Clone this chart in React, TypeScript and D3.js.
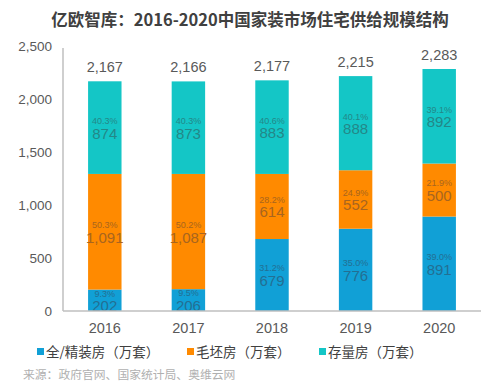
import * as d3 from 'd3';
import React from 'react';

const width = 500;
const height = 392;
const margin = { top: 46, right: 19, bottom: 81, left: 63 };

const years = ['2016', '2017', '2018', '2019', '2020'];
const fineDecor = [202, 206, 679, 776, 891];
const roughHouse = [1091, 1087, 614, 552, 500];
const stockHouse = [874, 873, 883, 888, 892];
const totals = [2167, 2166, 2177, 2215, 2283];
const finePct = ['9.3%', '9.5%', '31.2%', '35.0%', '39.0%'];
const roughPct = ['50.3%', '50.2%', '28.2%', '24.9%', '21.9%'];
const stockPct = ['40.3%', '40.3%', '40.6%', '40.1%', '39.1%'];
const yTicks = [0, 500, 1000, 1500, 2000, 2500];

const seriesNames = ['全/精装房（万套）', '毛坯房（万套）', '存量房（万套）'];
const colors = ['#11a0d6', '#ff8a00', '#14c6c6'];
const labelColors = ['#236f93', '#a8651f', '#238888'];

const fmt = d3.format(',');
const font = '"Liberation Sans", Arial, sans-serif';
const cjk = '"Noto Sans CJK SC", sans-serif';

export default function App() {
  const rows = years.map((y, i) => ({
    year: y,
    fine: fineDecor[i],
    rough: roughHouse[i],
    stock: stockHouse[i],
  }));
  const stacked = d3.stack<any>().keys(['fine', 'rough', 'stock'])(rows);
  const pcts = [finePct, roughPct, stockPct];

  const xScale = d3
    .scaleBand()
    .domain(years)
    .range([margin.left, width - margin.right])
    .paddingInner(0.6)
    .paddingOuter(0.3);
  const yScale = d3
    .scaleLinear()
    .domain([0, 2500])
    .range([height - margin.bottom, margin.top]);

  const bottom = height - margin.bottom;

  return (
    <svg
      width={width}
      height={height}
      style={{ position: 'absolute', left: 0, top: 0, background: '#fff' }}
    >
      <text
        x={250}
        y={26}
        textAnchor="middle"
        fontFamily={cjk}
        fontWeight="bold"
        fontSize={16.5}
        fill="#404040"
      >
        亿欧智库：2016-2020中国家装市场住宅供给规模结构
      </text>

      {yTicks.map((t) => (
        <text
          key={t}
          x={52}
          y={yScale(t)}
          dy="0.35em"
          textAnchor="end"
          fontFamily={font}
          fontSize={13.5}
          fill="#595959"
        >
          {fmt(t)}
        </text>
      ))}

      {stacked.map((s, si) =>
        s.map((d, i) => {
          const x = xScale(years[i])!;
          const y0 = yScale(d[0]);
          const y1 = yScale(d[1]);
          const cx = x + xScale.bandwidth() / 2;
          const cy = (y0 + y1) / 2;
          return (
            <g key={`${si}-${i}`}>
              <rect x={x} y={y1} width={xScale.bandwidth()} height={y0 - y1} fill={colors[si]} />
              <text
                x={cx}
                y={cy - 6}
                textAnchor="middle"
                dominantBaseline="middle"
                fontFamily={font}
                fontSize={9}
                fill={labelColors[si]}
              >
                {pcts[si][i]}
              </text>
              <text
                x={cx}
                y={cy + 7}
                textAnchor="middle"
                dominantBaseline="middle"
                fontFamily={font}
                fontSize={15}
                fill={labelColors[si]}
              >
                {fmt(d[1] - d[0])}
              </text>
            </g>
          );
        })
      )}

      {totals.map((t, i) => (
        <text
          key={years[i]}
          x={xScale(years[i])! + xScale.bandwidth() / 2}
          y={yScale(t) - 9}
          textAnchor="middle"
          fontFamily={font}
          fontSize={14.5}
          fill="#595959"
        >
          {fmt(t)}
        </text>
      ))}

      <line x1={margin.left} x2={margin.left} y1={margin.top + 2} y2={bottom} stroke="#bfbfbf" strokeWidth={1.5} />
      <line x1={margin.left} x2={width - margin.right} y1={bottom} y2={bottom} stroke="#bfbfbf" strokeWidth={1.5} />

      {years.map((y) => (
        <text
          key={y}
          x={xScale(y)! + xScale.bandwidth() / 2}
          y={bottom + 22}
          textAnchor="middle"
          fontFamily={font}
          fontSize={14.5}
          fill="#595959"
        >
          {y}
        </text>
      ))}

      {seriesNames.map((n, i) => {
        const lx = [37, 187, 319][i];
        return (
          <g key={n}>
            <rect x={lx} y={348} width={7} height={7} fill={colors[i]} />
            <text x={lx + 9} y={352} dy="0.35em" fontFamily={cjk} fontSize={13.5} fill="#404040">
              {n}
            </text>
          </g>
        );
      })}

      <text x={23} y={375} dy="0.35em" fontFamily={cjk} fontSize={11.8} fill="#b0b0b0">
        来源：政府官网、国家统计局、奥维云网
      </text>
    </svg>
  );
}
